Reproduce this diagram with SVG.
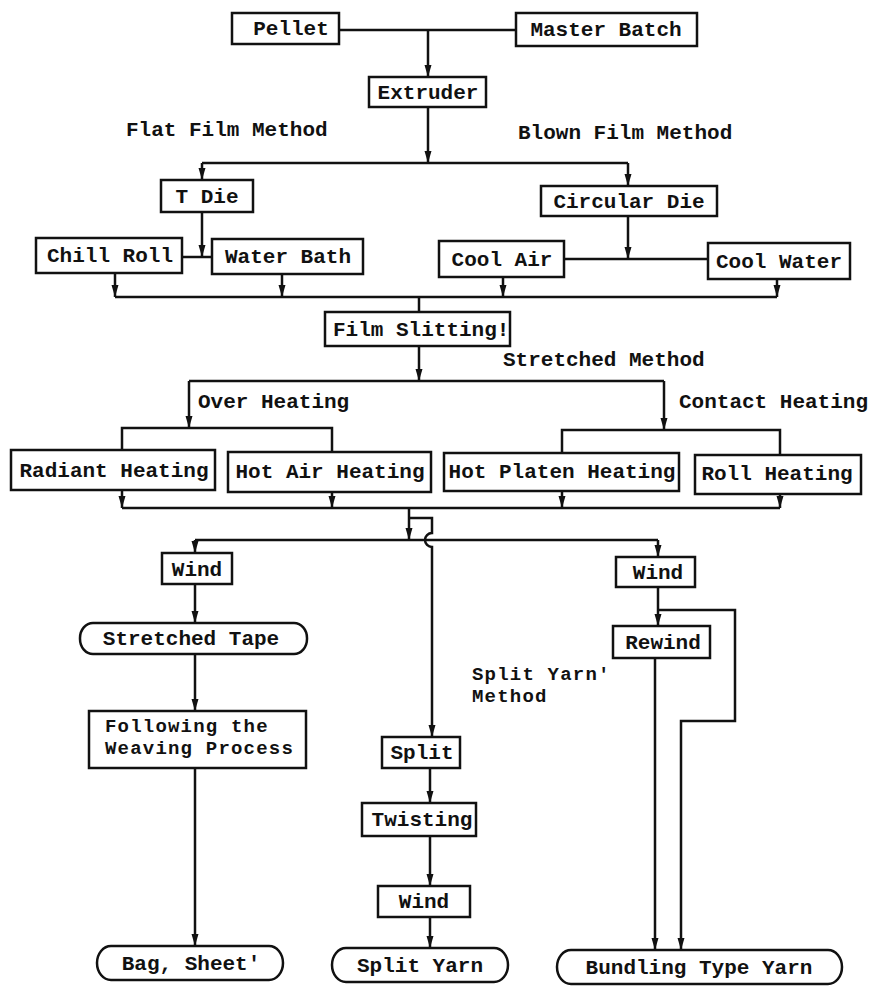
<svg xmlns="http://www.w3.org/2000/svg" width="870" height="987" viewBox="0 0 870 987">
  <style>
    .box { fill: #fff; stroke: #111; stroke-width: 2.5; }
    .t { font-family: "Liberation Mono", "DejaVu Sans Mono", monospace; font-weight: bold; font-size: 21px; fill: #111; }
    .s { font-size: 19px; letter-spacing: 1.2px; }
    .c { text-anchor: middle; }
    .ln { fill: none; stroke: #111; stroke-width: 2.5; }
    .ar { fill: none; stroke: #111; stroke-width: 2.5; marker-end: url(#tip); }
  </style>
  <defs>
    <marker id="tip" markerUnits="userSpaceOnUse" markerWidth="13" markerHeight="8" refX="12" refY="3.5" orient="auto">
      <path d="M0,0 L12,3.5 L0,7 z" fill="#111"/>
    </marker>
  </defs>
  <rect width="870" height="987" fill="#fff"/>

  <!-- flow lines -->
  <g id="connectors">
    <path class="ln" d="M339,30 H516"/>
    <path class="ar" d="M428,30 V77"/>
    <path class="ar" d="M428,107 V163"/>
    <path class="ln" d="M202,163 H628"/>
    <path class="ar" d="M202,163 V180"/>
    <path class="ar" d="M628,163 V186"/>
    <path class="ar" d="M202,212 V257"/>
    <path class="ln" d="M182,257 H212"/>
    <path class="ar" d="M628,216 V259"/>
    <path class="ln" d="M564,259 H708"/>
    <path class="ln" d="M115,297 H777"/>
    <path class="ar" d="M115,273 V297"/>
    <path class="ar" d="M282,274 V297"/>
    <path class="ar" d="M503,277 V297"/>
    <path class="ar" d="M777,279 V297"/>
    <path class="ln" d="M419,297 V312"/>
    <path class="ar" d="M419,346 V381"/>
    <path class="ln" d="M189,381 H664"/>
    <path class="ar" d="M189,381 V428"/>
    <path class="ar" d="M664,381 V430"/>
    <path class="ln" d="M122,450 V428 H332 V452"/>
    <path class="ln" d="M562,453 V430 H780 V455"/>
    <path class="ar" d="M122,490 V508"/>
    <path class="ar" d="M332,492 V508"/>
    <path class="ar" d="M562,491 V508"/>
    <path class="ar" d="M780,494 V508"/>
    <path class="ln" d="M122,508 H780"/>
    <path class="ar" d="M409,508 V540"/>
    <path class="ar" d="M409,518 H432 V533 A7,7 0 0 0 432,547 V737"/>
    <path class="ln" d="M195,540 H658"/>
    <path class="ar" d="M195,540 V553"/>
    <path class="ar" d="M658,540 V557"/>
    <path class="ar" d="M195,584 V623"/>
    <path class="ar" d="M195,654 V711"/>
    <path class="ar" d="M195,768 V946"/>
    <path class="ar" d="M430,768 V803"/>
    <path class="ar" d="M430,836 V886"/>
    <path class="ar" d="M430,917 V948"/>
    <path class="ar" d="M658,587 V626"/>
    <path class="ar" d="M658,610 H735 V721 H681 V950"/>
    <path class="ar" d="M655,658 V950"/>
  </g>

  <!-- section labels -->
  <g id="labels">
    <text class="t" x="126" y="136">Flat Film Method</text>
    <text class="t" x="518" y="139">Blown Film Method</text>
    <text class="t" x="503" y="366">Stretched Method</text>
    <text class="t" x="198" y="408">Over Heating</text>
    <text class="t" x="679" y="408">Contact Heating</text>
    <text class="t s" x="472" y="680">Split Yarn'</text>
    <text class="t s" x="472" y="702">Method</text>
  </g>

  <g id="pellet"><rect class="box" x="232" y="13" width="107" height="31"/><text class="t c" x="291" y="35">Pellet</text></g>
  <g id="master-batch"><rect class="box" x="516" y="13" width="181" height="33"/><text class="t c" x="606" y="36">Master Batch</text></g>
  <g id="extruder"><rect class="box" x="369" y="77" width="117" height="30"/><text class="t c" x="428" y="99">Extruder</text></g>
  <g id="t-die"><rect class="box" x="161" y="180" width="92" height="32"/><text class="t c" x="207" y="203">T Die</text></g>
  <g id="circular-die"><rect class="box" x="541" y="186" width="176" height="30"/><text class="t c" x="629" y="208">Circular Die</text></g>
  <g id="chill-roll"><rect class="box" x="36" y="238" width="146" height="35"/><text class="t c" x="110" y="262">Chill Roll</text></g>
  <g id="water-bath"><rect class="box" x="212" y="239" width="151" height="35"/><text class="t c" x="288" y="263">Water Bath</text></g>
  <g id="cool-air"><rect class="box" x="439" y="241" width="125" height="36"/><text class="t c" x="502" y="266">Cool Air</text></g>
  <g id="cool-water"><rect class="box" x="708" y="243" width="142" height="36"/><text class="t c" x="779" y="268">Cool Water</text></g>
  <g id="film-slitting"><rect class="box" x="325" y="312" width="185" height="34"/><text class="t" x="333" y="336">Film Slitting!</text></g>
  <g id="radiant-heating"><rect class="box" x="11" y="450" width="204" height="40"/><text class="t c" x="114" y="477">Radiant Heating</text></g>
  <g id="hot-air-heating"><rect class="box" x="228" y="452" width="203" height="40"/><text class="t c" x="330" y="478">Hot Air Heating</text></g>
  <g id="hot-platen-heating"><rect class="box" x="444" y="453" width="235" height="38"/><text class="t c" x="562" y="478">Hot Platen Heating</text></g>
  <g id="roll-heating"><rect class="box" x="695" y="455" width="166" height="39"/><text class="t c" x="777" y="480">Roll Heating</text></g>
  <g id="wind-tape"><rect class="box" x="162" y="553" width="70" height="31"/><text class="t c" x="197" y="576">Wind</text></g>
  <g id="stretched-tape"><rect class="box" x="80" y="623" width="227" height="31" rx="13" ry="15"/><text class="t c" x="191" y="645">Stretched Tape</text></g>
  <g id="weaving"><rect class="box" x="89" y="711" width="217" height="57"/><text class="t s" x="105" y="732">Following the</text><text class="t s" x="105" y="754">Weaving Process</text></g>
  <g id="bag-sheet"><rect class="box" x="97" y="946" width="186" height="34" rx="14" ry="17"/><text class="t c" x="191" y="970">Bag, Sheet'</text></g>
  <g id="split"><rect class="box" x="382" y="737" width="78" height="31"/><text class="t c" x="422" y="759">Split</text></g>
  <g id="twisting"><rect class="box" x="362" y="803" width="114" height="33"/><text class="t c" x="422" y="826">Twisting</text></g>
  <g id="wind-split"><rect class="box" x="378" y="886" width="92" height="31"/><text class="t c" x="424" y="908">Wind</text></g>
  <g id="split-yarn"><rect class="box" x="332" y="948" width="176" height="34" rx="14" ry="17"/><text class="t c" x="420" y="972">Split Yarn</text></g>
  <g id="wind-bundle"><rect class="box" x="616" y="557" width="79" height="30"/><text class="t c" x="658" y="579">Wind</text></g>
  <g id="rewind"><rect class="box" x="613" y="626" width="97" height="32"/><text class="t c" x="663" y="649">Rewind</text></g>
  <g id="bundling-yarn"><rect class="box" x="557" y="950" width="285" height="34" rx="14" ry="17"/><text class="t c" x="699" y="974">Bundling Type Yarn</text></g>
</svg>
